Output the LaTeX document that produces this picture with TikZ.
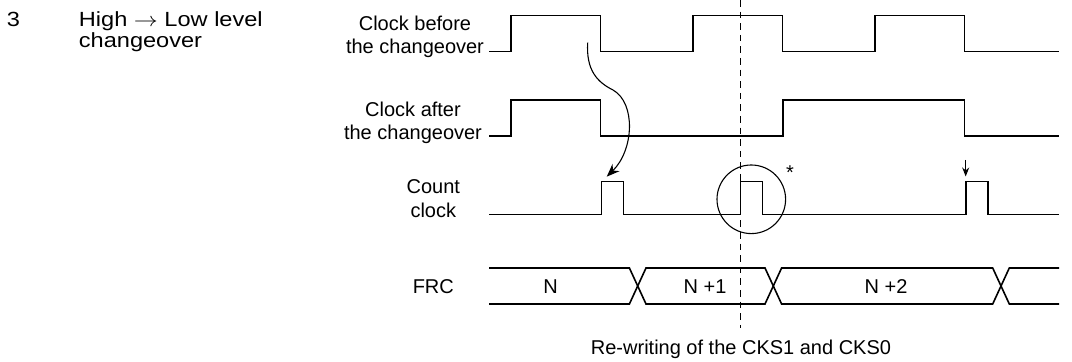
\documentclass[tikz,border=0pt]{standalone}
\usepackage{graphicx}
\usepackage{fontspec}
\setmainfont{Liberation Sans}
\newfontfamily\titlefont[FakeStretch=1.15]{Liberation Sans}
\usetikzlibrary{arrows.meta}
\begin{document}
\begin{tikzpicture}[x=0.5pt,y=-0.5pt,
  wave/.style={line width=0.8pt,line join=miter,line cap=butt},
  thinline/.style={line width=0.55pt},
  lbl/.style={inner sep=0pt,anchor=base,font=\fontsize{10}{12}\selectfont},
  ttl/.style={inner sep=0pt,anchor=base west,font=\titlefont\fontsize{10.25}{12}\selectfont},
]
\useasboundingbox (0,0) rectangle (1072,362);

% title
\node[ttl] (num) at (6.5,26.7) {3};
\node[ttl] (t1) at (78.5,26.7) {High \scalebox{1.2}[1]{$\rightarrow$} Low level};
\node[ttl] (t2) at (78.5,47.7) {changeover};

% signal labels
\node[lbl] (cb1) at (415,30.7) {Clock before};
\node[lbl] (cb2) at (415,54) {the changeover};
\node[lbl] (ca1) at (413,116.5) {Clock after};
\node[lbl] (ca2) at (413,140) {the changeover};
\node[lbl] (cc1) at (433.3,194) {Count};
\node[lbl] (cc2) at (433.3,217.7) {clock};
\node[lbl] (frc) at (433.3,293.3) {FRC};

% clock before the changeover
\draw[wave] (489,51.5) -- (510.7,51.5) -- (510.7,15.5) -- (600.5,15.5) -- (600.5,51.5)
  -- (692.8,51.5) -- (692.8,15.5) -- (782.4,15.5) -- (782.4,51.5)
  -- (874.8,51.5) -- (874.8,15.5) -- (964.5,15.5) -- (964.5,51.5) -- (1059,51.5);

% clock after the changeover
\draw[wave] (489,136.3) -- (510.7,136.3) -- (510.7,100.3) -- (600.5,100.3) -- (600.5,136.3)
  -- (783,136.3) -- (783,100.3) -- (964.5,100.3) -- (964.5,136.3) -- (1059,136.3);

% count clock
\draw[wave] (489,214.5) -- (601.5,214.5) -- (601.5,181.5) -- (623.5,181.5) -- (623.5,214.5)
  -- (740.5,214.5) -- (740.5,181.5) -- (762.5,181.5) -- (762.5,214.5)
  -- (966,214.5) -- (966,181.5) -- (988,181.5) -- (988,214.5) -- (1059,214.5);

% FRC bus
\draw[wave] (489,268) -- (629.4,268) -- (646,304) -- (765,304) -- (781.6,268)
  -- (992.7,268) -- (1009.3,304) -- (1059,304);
\draw[wave] (489,304) -- (629.4,304) -- (646,268) -- (765,268) -- (781.6,304)
  -- (992.7,304) -- (1009.3,268) -- (1059,268);
\node[lbl] (n0) at (550.7,293.3) {N};
\node[lbl] (n1) at (705,293.3) {N +1};
\node[lbl] (n2) at (886,293.3) {N +2};

% rewrite instant
\coordinate (dtop) at (740.5,0);
\coordinate (dbot) at (740.5,328);
\draw[thinline,dash pattern=on 3.3pt off 2.5pt] (dtop) -- (dbot);
\node[lbl] (rw) at (741,355) {Re-writing of the CKS1 and CKS0};

% circled pulse and asterisk
\node[draw,circle,thinline,minimum size=34.3pt,inner sep=0pt] (ring) at (751.3,199.3) {};
\node[lbl] (ast) at (790,179.6) {*};

% curved arrow
\coordinate (cs) at (587.7,42.7);
\coordinate (cm) at (613,90);
\coordinate (ct) at (606.7,176.7);
\draw[thinline,-{Stealth[length=6.5pt,width=5pt]}] (cs) .. controls (586,70) and (597,82) .. (cm)
  .. controls (636,103) and (634,150) .. (ct);

% small arrow
\coordinate (as) at (965.7,160);
\coordinate (at) at (965.7,176.5);
\draw[thinline,-{Stealth[length=4.5pt,width=3.5pt]}] (as) -- (at);
\end{tikzpicture}
\end{document}
